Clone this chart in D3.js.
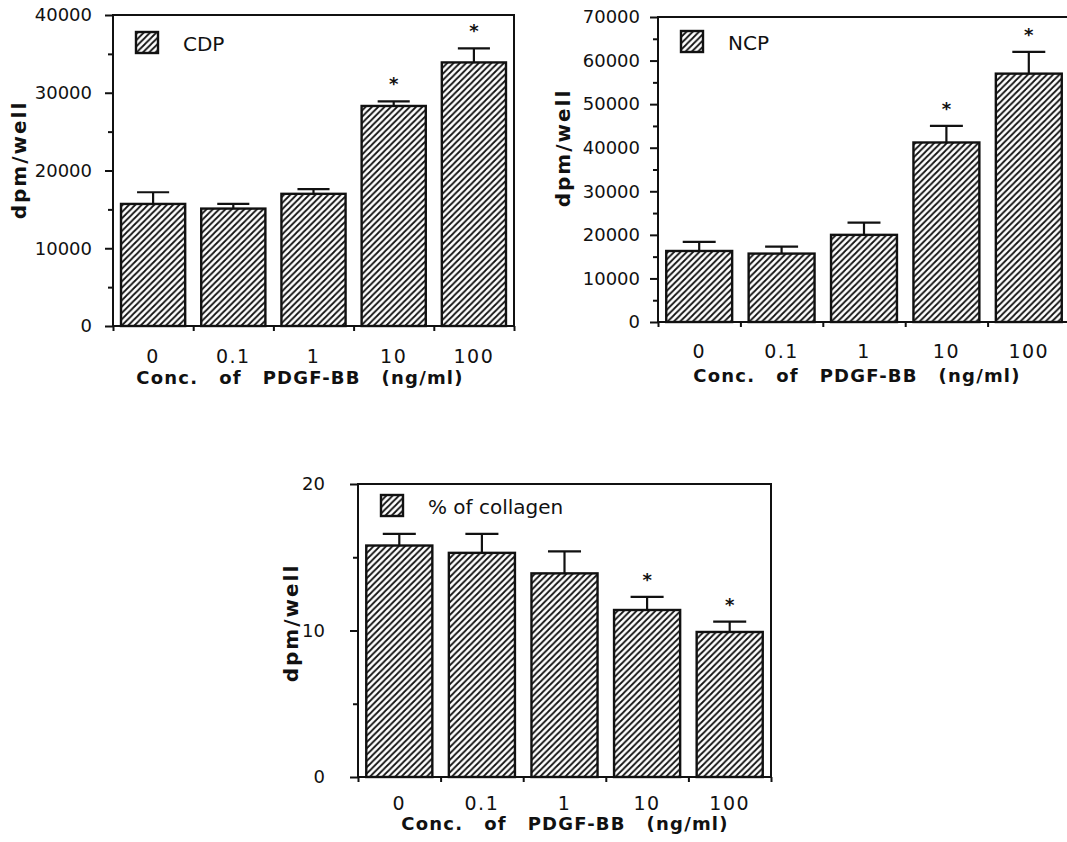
<!DOCTYPE html>
<html>
<head>
<meta charset="utf-8">
<script src="https://cdn.jsdelivr.net/npm/d3@7"></script>
<style>
  body { margin: 0; background: #fff; }
  svg { display: block; }
  text { font-family: "DejaVu Sans", sans-serif; fill: #111; }
  .tick text { font-size: 18px; }
  .axis path, .axis line { stroke: #111; stroke-width: 2px; }
</style>
</head>
<body>
<div id="chart"></div>
<script>
// categories (PDGF-BB concentration, ng/ml)
var categories = ["0", "0.1", "1", "10", "100"];

// CDP panel
var cdpValues = [15700, 15100, 17000, 28300, 33900];
var cdpErrors = [1500, 600, 600, 600, 1800];
var cdpStars = [false, false, false, true, true];
var cdpTicks = [0, 10000, 20000, 30000, 40000];

// NCP panel
var ncpValues = [16300, 15700, 20000, 41200, 57000];
var ncpErrors = [2100, 1600, 2800, 3800, 5000];
var ncpStars = [false, false, false, true, true];
var ncpTicks = [0, 10000, 20000, 30000, 40000, 50000, 60000, 70000];

// % of collagen panel
var colValues = [15.8, 15.3, 13.9, 11.4, 9.9];
var colErrors = [0.8, 1.3, 1.5, 0.9, 0.7];
var colStars = [false, false, false, true, true];
var colTicks = [0, 10, 20];

var xTitle = "Conc.  of  PDGF-BB  (ng/ml)";
var yTitle = "dpm/well";

var W = 1067, H = 842;

var svg = d3.select("#chart").append("svg")
  .attr("width", W)
  .attr("height", H);

// hatch pattern "/"
var hs = 6.3;
svg.append("defs").append("pattern")
  .attr("id", "hatch")
  .attr("patternUnits", "userSpaceOnUse")
  .attr("width", hs)
  .attr("height", hs)
  .append("path")
  .attr("d", "M-1,1l2,-2 M0," + hs + "l" + hs + "," + (-hs) + " M" + (hs - 1) + "," + (hs + 1) + "l2,-2")
  .attr("stroke", "#111")
  .attr("stroke-width", 1.8);

function drawPanel(p) {
  var g = svg.append("g");

  var x = d3.scaleBand()
    .domain(categories)
    .range([p.left, p.right])
    .paddingInner(0.2)
    .paddingOuter(0.1);

  var y = d3.scaleLinear()
    .domain([0, p.max])
    .range([p.bottom, p.top]);

  // frame
  g.append("rect")
    .attr("x", p.left)
    .attr("y", p.top)
    .attr("width", p.right - p.left)
    .attr("height", p.bottom - p.top)
    .attr("fill", "none")
    .attr("stroke", "#111")
    .attr("stroke-width", 2);

  // bars
  g.selectAll("rect.bar")
    .data(p.values)
    .enter()
    .append("rect")
    .attr("class", "bar")
    .attr("x", (d, i) => x(categories[i]))
    .attr("y", (d) => y(d))
    .attr("width", x.bandwidth())
    .attr("height", (d) => p.bottom - y(d))
    .attr("fill", "url(#hatch)")
    .attr("stroke", "#111")
    .attr("stroke-width", 2.4);

  // error bars
  var cap = x.bandwidth() / 2;
  p.values.forEach(function (v, i) {
    var cx = x(categories[i]) + x.bandwidth() / 2;
    g.append("line")
      .attr("x1", cx).attr("x2", cx)
      .attr("y1", y(v)).attr("y2", y(v + p.errors[i]))
      .attr("stroke", "#111").attr("stroke-width", 2.2);
    g.append("line")
      .attr("x1", cx - cap / 2).attr("x2", cx + cap / 2)
      .attr("y1", y(v + p.errors[i])).attr("y2", y(v + p.errors[i]))
      .attr("stroke", "#111").attr("stroke-width", 2.2);
    if (p.stars[i]) {
      g.append("text")
        .attr("x", cx)
        .attr("y", y(v + p.errors[i]) - 11)
        .attr("text-anchor", "middle")
        .style("font-size", "18px")
        .style("font-weight", "bold")
        .text("*");
    }
  });

  // y axis, major + minor ticks
  var yAxis = d3.axisLeft(y)
    .tickValues(p.ticks)
    .tickSize(8)
    .tickPadding(p.tickPad)
    .tickFormat(d3.format("d"));
  g.append("g")
    .attr("class", "axis")
    .attr("transform", "translate(" + p.left + ",0)")
    .call(yAxis)
    .call((a) => a.select(".domain").remove());

  var step = p.ticks[1] - p.ticks[0];
  g.append("g")
    .attr("class", "axis")
    .attr("transform", "translate(" + p.left + ",0)")
    .call(d3.axisLeft(y)
      .tickValues(p.ticks.slice(1).map((t) => t - step / 2))
      .tickSize(5)
      .tickFormat(""))
    .call((a) => a.select(".domain").remove());

  // x boundary ticks
  var xb = d3.scaleLinear().domain([0, 5]).range([p.left, p.right]);
  g.append("g")
    .attr("class", "axis")
    .attr("transform", "translate(0," + p.bottom + ")")
    .call(d3.axisBottom(xb).tickValues([0, 1, 2, 3, 4, 5]).tickSize(5).tickFormat(""))
    .call((a) => a.select(".domain").remove());

  // x labels
  g.selectAll("text.xl")
    .data(categories)
    .enter()
    .append("text")
    .attr("class", "xl")
    .attr("x", (d) => x(d) + x.bandwidth() / 2)
    .attr("y", p.bottom + p.labelDy)
    .attr("text-anchor", "middle")
    .style("font-size", "19px")
    .style("letter-spacing", "1.5px")
    .text((d) => d);

  // x title
  g.append("text")
    .attr("x", p.titleX)
    .attr("y", p.bottom + p.titleDy)
    .attr("text-anchor", "middle")
    .style("font-size", "18px")
    .style("font-weight", "bold")
    .style("letter-spacing", "1.2px")
    .style("word-spacing", "3px")
    .style("white-space", "pre")
    .text(xTitle);

  // y title
  g.append("text")
    .attr("transform", "translate(" + p.yTitleX + "," + p.yTitleY + ") rotate(-90)")
    .attr("text-anchor", "middle")
    .attr("dominant-baseline", "central")
    .style("font-size", "20px")
    .style("font-weight", "bold")
    .style("letter-spacing", "2px")
    .text(yTitle);

  // legend
  g.append("rect")
    .attr("x", p.left + 23)
    .attr("y", p.top + p.legDy)
    .attr("width", 22)
    .attr("height", 21)
    .attr("fill", "url(#hatch)")
    .attr("stroke", "#111")
    .attr("stroke-width", 2.4);
  g.append("text")
    .attr("x", p.left + 70)
    .attr("y", p.top + p.legDy + 19)
    .style("font-size", "20px")
    .text(p.name);
}

drawPanel({
  name: "CDP", values: cdpValues, errors: cdpErrors, stars: cdpStars, ticks: cdpTicks, max: 40000,
  left: 113, right: 514, top: 15, bottom: 326, tickPad: 13,
  labelDy: 37, titleDy: 58, titleX: 300, yTitleX: 19, yTitleY: 160, legDy: 17
});

drawPanel({
  name: "NCP", values: ncpValues, errors: ncpErrors, stars: ncpStars, ticks: ncpTicks, max: 70000,
  left: 658, right: 1070, top: 17, bottom: 322, tickPad: 10,
  labelDy: 36, titleDy: 60, titleX: 857, yTitleX: 563, yTitleY: 148, legDy: 14
});

drawPanel({
  name: "% of collagen", values: colValues, errors: colErrors, stars: colStars, ticks: colTicks, max: 20,
  left: 358, right: 771, top: 484, bottom: 777, tickPad: 25,
  labelDy: 33, titleDy: 53, titleX: 565, yTitleX: 291, yTitleY: 623, legDy: 11
});
</script>
</body>
</html>
